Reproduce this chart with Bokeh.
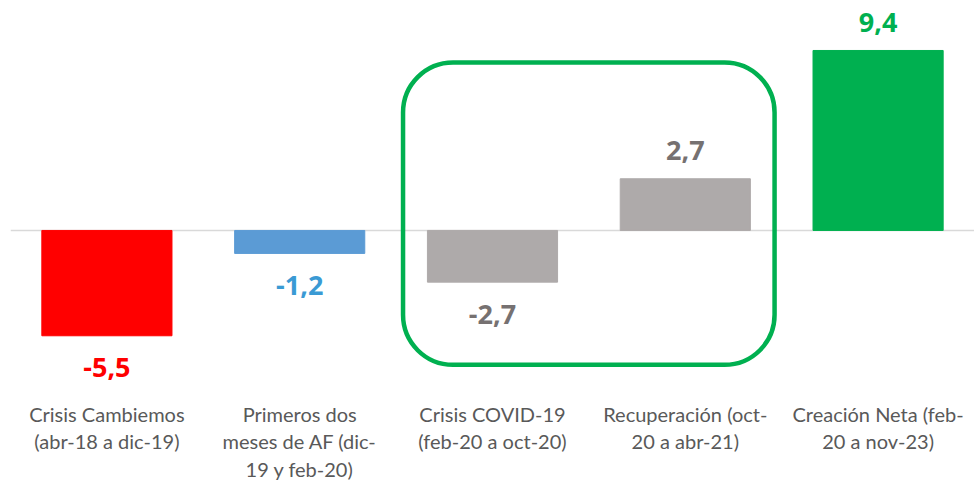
from bokeh.plotting import figure
from bokeh.models import ColumnDataSource, Range1d, Span, BoxAnnotation
from bokeh.core.properties import value
from bokeh.embed import file_html
from bokeh.resources import INLINE

categories = [
    "Crisis Cambiemos\n(abr-18 a dic-19)",
    "Primeros dos\nmeses de AF (dic-\n19 y feb-20)",
    "Crisis COVID-19\n(feb-20 a oct-20)",
    "Recuperación (oct-\n20 a abr-21)",
    "Creación Neta (feb-\n20 a nov-23)",
]
values = [-5.5, -1.2, -2.7, 2.7, 9.4]
value_labels = ["-5,5", "-1,2", "-2,7", "2,7", "9,4"]
bar_colors = ["#FF0000", "#5B9BD5", "#AEAAAA", "#AEAAAA", "#00B050"]
label_colors = ["#FF0000", "#3A9AD4", "#767171", "#767171", "#00B050"]

xs = [i + 0.5 for i in range(len(values))]

p = figure(width=974, height=485, output_backend="svg", toolbar_location=None,
           x_range=Range1d(0, 5), y_range=Range1d(-13.32, 12.01),
           x_axis_location=None, y_axis_location=None,
           min_border_left=10, min_border_right=0, min_border_top=0, min_border_bottom=0)
p.grid.visible = False
p.outline_line_color = None

p.add_layout(Span(location=0, dimension="width", line_color="#D9D9D9",
                  line_width=1.5, level="underlay"))

bars = ColumnDataSource(dict(x=xs, top=values, color=bar_colors))
p.vbar(x="x", top="top", bottom=0, width=0.675, color="color", source=bars)

lab = ColumnDataSource(dict(
    x=xs, y=values, text=value_labels, color=label_colors,
    off=[32 if v < 0 else -28 for v in values],
))
p.text(x="x", y="y", text="text", text_color="color", y_offset="off",
       text_align="center", text_baseline="middle",
       text_font=value("Open Sans"), text_font_style="bold",
       text_font_size="27px", source=lab)

# category labels, one line per row
cx, cy, ct, co = [], [], [], []
for x, c in zip(xs, categories):
    for j, line in enumerate(c.split("\n")):
        cx.append(x)
        cy.append(-9.56)
        ct.append(line)
        co.append(j * 27.5)
p.text(x=cx, y=cy, text=ct, y_offset=co, text_align="center",
       text_baseline="middle", text_color="#595959",
       text_font=value("Lato"), text_font_size="20px")

p.add_layout(BoxAnnotation(left=2.036, right=3.963, top=8.77, bottom=-7.02,
                           fill_alpha=0, line_color="#00B050", line_alpha=1,
                           line_width=4.5, border_radius=50))

open("out.html", "w").write(file_html(p, INLINE))
